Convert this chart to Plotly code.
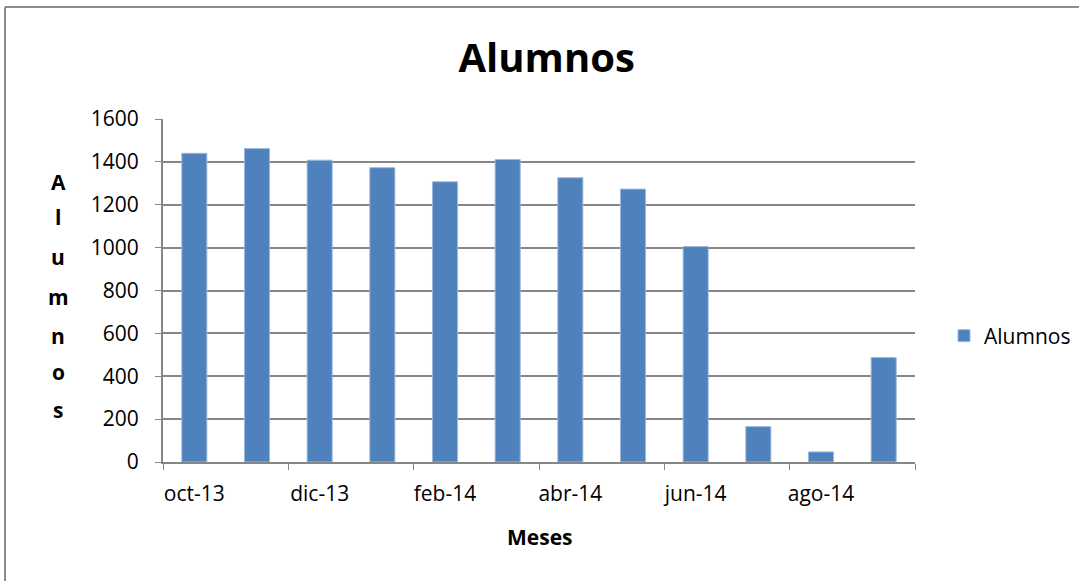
import plotly.graph_objects as go

months = ["oct-13", "nov-13", "dic-13", "ene-14", "feb-14", "mar-14",
          "abr-14", "may-14", "jun-14", "jul-14", "ago-14", "sep-14"]
alumnos = [1440, 1462, 1408, 1373, 1307, 1411, 1326, 1273, 1005, 165, 47, 487]
y_ticks = [0, 200, 400, 600, 800, 1000, 1200, 1400, 1600]
ytitle_letters = ["A", "l", "u", "m", "n", "o", "s"]

W, H = 1079, 581
L, R, T, B = 163, 164, 119, 119
pw, ph = W - L - R, H - T - B

def px(x):
    return (x - L) / pw

def py(y):
    return (H - B - y) / ph

FONT = "Open Sans, Liberation Sans, sans-serif"
GRID = "#868686"
FS = 21

fig = go.Figure()
fig.add_trace(go.Bar(
    x=months, y=alumnos, name="Alumnos",
    marker=dict(color="#4F81BD", line=dict(color="#9DB9DE", width=1)),
    width=0.4,
))

annotations = []
letter_y = [182, 217, 257, 297, 336, 372, 410]
for ch, yy in zip(ytitle_letters, letter_y):
    annotations.append(dict(text="<b>%s</b>" % ch, x=px(58), y=py(yy), xref="paper", yref="paper",
                            showarrow=False, font=dict(family=FONT, size=FS, color="black"),
                            xanchor="center", yanchor="middle"))
annotations.append(dict(text="<b>Meses</b>", x=px(540), y=py(537), xref="paper", yref="paper",
                        showarrow=False, font=dict(family=FONT, size=FS, color="black"),
                        xanchor="center", yanchor="middle"))

border = dict(color="#8C8C8C", width=2)
fig.update_layout(
    width=W, height=H,
    margin=dict(l=L, r=R, t=T, b=B, autoexpand=False),
    paper_bgcolor="white", plot_bgcolor="white",
    title=dict(text="<b>Alumnos</b>", x=px(544), xanchor="center", y=1 - 58 / H, yanchor="middle",
               font=dict(family=FONT, size=40, color="black")),
    font=dict(family=FONT, size=FS, color="black"),
    showlegend=True,
    legend=dict(x=px(944), y=py(336), xanchor="left", yanchor="middle",
                font=dict(family=FONT, size=FS, color="black"), itemwidth=30,
                bgcolor="rgba(0,0,0,0)"),
    xaxis=dict(type="category", dtick=2, tickson="boundaries", ticks="outside", ticklen=6,
               tickcolor=GRID, showline=True, linecolor=GRID, linewidth=2, showgrid=False,
               tickfont=dict(family=FONT, size=FS, color="black"), ticklabelstandoff=12,
               tickangle=0, automargin=False, range=[-0.5, 11.5]),
    yaxis=dict(range=[0, 1600], tickvals=y_ticks, ticks="outside", ticklen=6, tickcolor=GRID,
               showline=True, linecolor=GRID, linewidth=2, showgrid=True, gridcolor=GRID, gridwidth=1.5,
               tickfont=dict(family=FONT, size=FS, color="black"), zeroline=False,
               ticklabelstandoff=12, automargin=False),
    annotations=annotations,
    shapes=[
        dict(type="line", xref="paper", yref="paper", x0=px(5), y0=py(7), x1=px(1079), y1=py(7),
             line=border, layer="below"),
        dict(type="line", xref="paper", yref="paper", x0=px(5), y0=py(7), x1=px(5), y1=py(581),
             line=border, layer="below"),
    ],
    bargap=0.6,
)

fig.write_html("out.html",
               post_script="document.body.style.margin='0';document.body.style.overflow='hidden';",
               config={"displayModeBar": False})
